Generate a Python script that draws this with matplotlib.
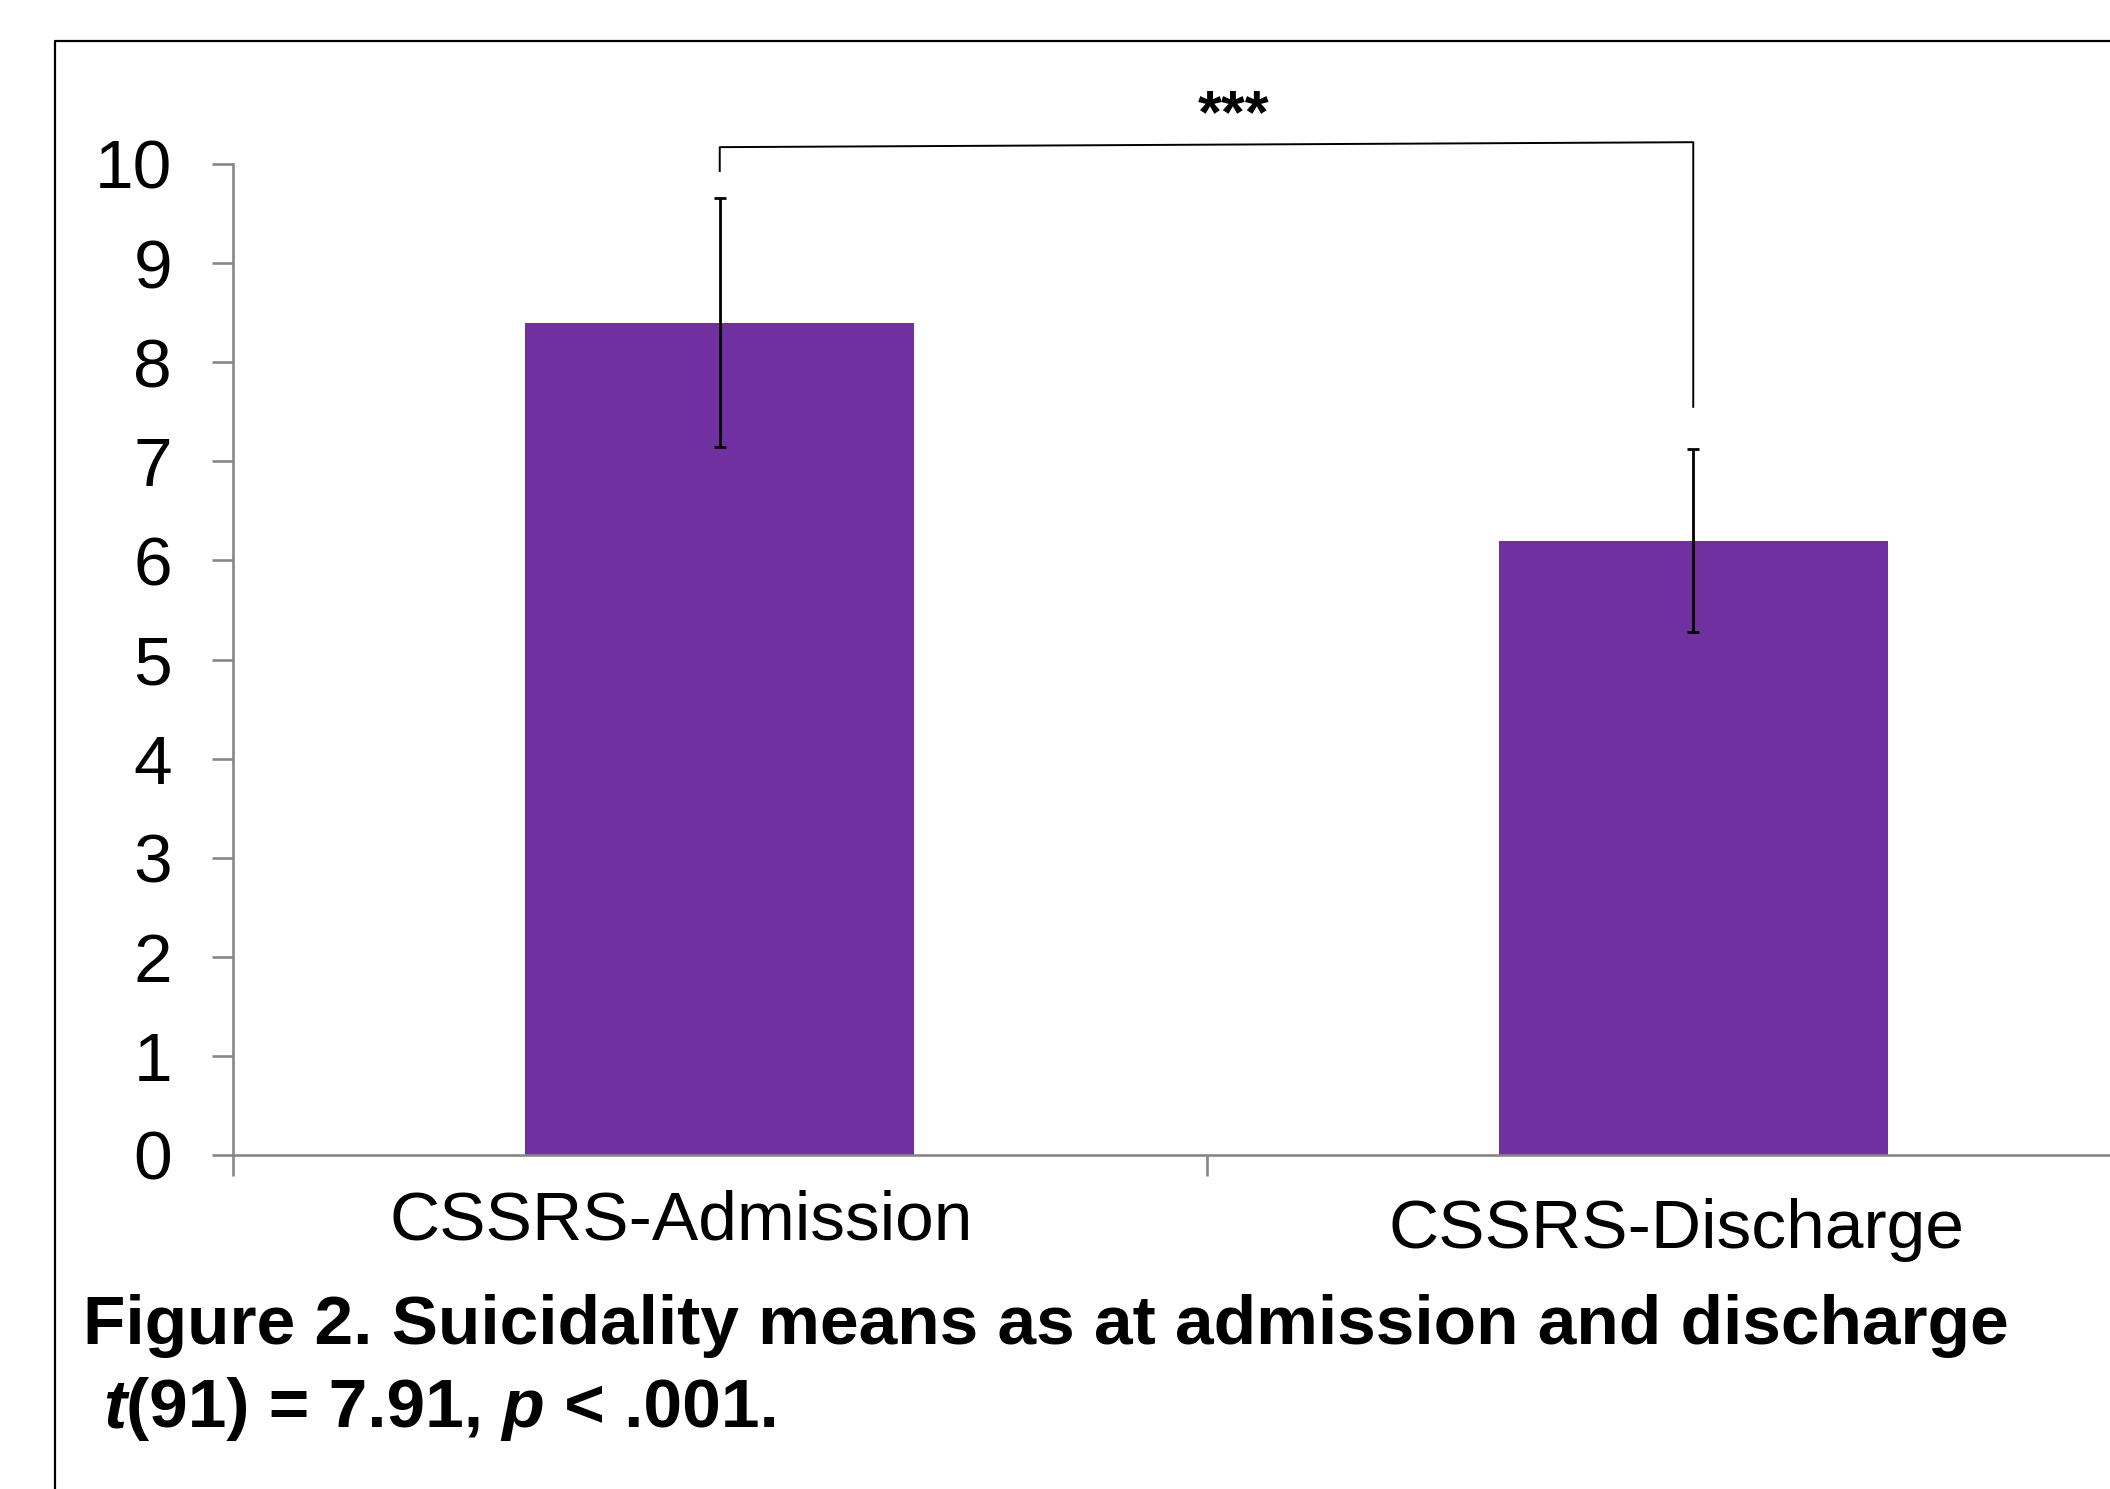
import matplotlib
matplotlib.use('Agg')
import matplotlib.pyplot as plt
from matplotlib.lines import Line2D
from matplotlib.transforms import ScaledTranslation

# data
categories = ['CSSRS-Admission', 'CSSRS-Discharge']
means = [8.40, 6.20]
errors = [1.26, 0.92]
y_ticks = list(range(0, 11))

caption = 'Figure 2. Suicidality means as at admission and discharge'
stat_runs = [('t', 'italic'), ('(91) = 7.91,', 'normal'), (' p', 'italic'), (' < .001.', 'normal')]

W, H = 2110, 1489
DPI = 100
PURPLE = '#7030A0'
GRAY = '#878787'

plt.rcParams['font.family'] = ['Liberation Sans', 'DejaVu Sans']


def fx(px):
    return px / W


def fy(py):
    return 1 - py / H


fig = plt.figure(figsize=(W / DPI, H / DPI), dpi=DPI)

# axes box in reference pixels; it runs past the right edge like the original
left, right, top, bottom = 233, 2180, 164, 1155
ax = fig.add_axes([fx(left), fy(bottom), (right - left) / W, (bottom - top) / H])

xs = list(range(len(categories)))
ax.bar(xs, means, width=0.4, color=PURPLE, zorder=2)
ax.errorbar(xs, means, yerr=errors, fmt='none', ecolor='black',
            elinewidth=2.0, capsize=4.2, capthick=2.0, zorder=3)

ax.set_xlim(-0.5, len(categories) - 0.5)
ax.set_ylim(0, 10)
ax.set_yticks(y_ticks)
ax.set_xticks(xs, categories)
ax.set_xticks([i - 0.5 for i in range(len(categories) + 1)], minor=True)

ax.tick_params(axis='y', direction='out', length=15, width=1.9, color=GRAY,
               pad=29, labelsize=50, labelcolor='black')
ax.tick_params(axis='x', which='major', length=0, pad=25, labelsize=50)
ax.tick_params(axis='x', which='minor', direction='out', length=15, width=1.9, color=GRAY)

for side in ['top', 'right']:
    ax.spines[side].set_visible(False)
for side in ['left', 'bottom']:
    ax.spines[side].set_color(GRAY)
    ax.spines[side].set_linewidth(1.9)

# the category labels sit a bit off-centre in the original
label_shift = [(-39, 0), (-17, -8)]
for lab, (dx, dy) in zip(ax.get_xticklabels(), label_shift):
    lab.set_transform(lab.get_transform() +
                      ScaledTranslation(dx / DPI, dy / DPI, fig.dpi_scale_trans))

# significance bracket
ax.plot([0, 0, 1, 1], [9.93, 10.17, 10.22, 7.55], color='black', lw=1.4,
        clip_on=False, zorder=4)
ax.text(0.528, 10.77, '***', ha='center', va='top', fontsize=44,
        fontweight='bold', clip_on=False)

# frame around the figure (left and top only are visible)
fig.add_artist(Line2D([fx(55), fx(55), 1.0], [0, fy(41), fy(41)], color='black', lw=1.6))

# caption
fig.text(fx(83), fy(1344), caption, fontsize=50, fontweight='bold', va='baseline')

renderer = fig.canvas.get_renderer()
x = 103
for txt, style in stat_runs:
    t = fig.text(fx(x), fy(1427), txt, fontsize=50, fontweight='bold',
                 fontstyle=style, va='baseline', ha='left')
    x = t.get_window_extent(renderer).x1

fig.savefig('out.png', dpi=DPI, facecolor='white')
